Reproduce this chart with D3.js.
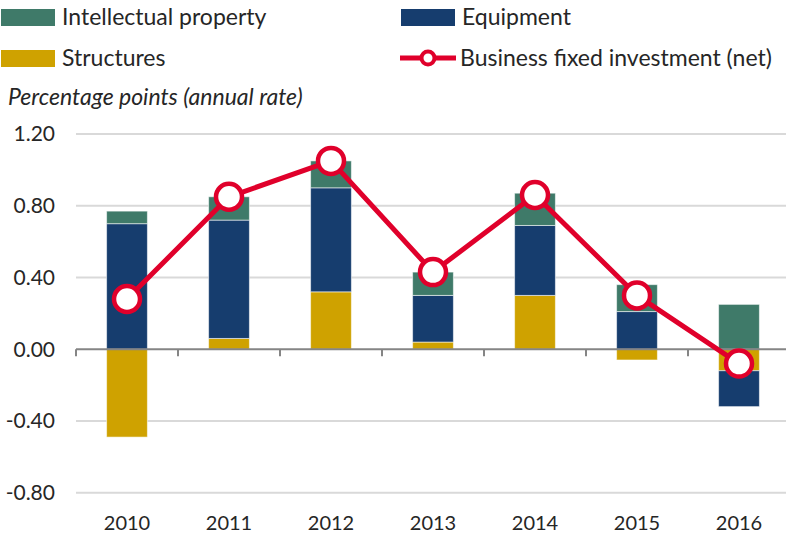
<!DOCTYPE html>
<html><head><meta charset="utf-8">
<script src="https://cdn.jsdelivr.net/npm/d3@7"></script>
<style>
html,body{margin:0;padding:0;background:#fff;}
svg{display:block;font-family:Lato,"Noto Sans",sans-serif;}
</style></head>
<body><svg id="chart" width="786" height="538"></svg>
<script>
const years = ["2010","2011","2012","2013","2014","2015","2016"];
const structures = [-0.49, 0.06, 0.32, 0.04, 0.30, -0.06, -0.12];
const equipment = [0.70, 0.66, 0.58, 0.26, 0.39, 0.21, -0.20];
const intellectual = [0.07, 0.13, 0.15, 0.13, 0.18, 0.15, 0.25];
const netInvestment = [0.28, 0.85, 1.05, 0.43, 0.86, 0.30, -0.08];
const yTicks = [-0.8, -0.4, 0, 0.4, 0.8, 1.2];

const colors = {structures:"#cfa200", equipment:"#163d6e", intellectual:"#3f7a69", line:"#e0002b"};

const svg = d3.select("#chart");
const x = d3.scaleBand().domain(years).range([76, 790]).paddingInner(0.6).paddingOuter(0.3);
const y = d3.scaleLinear().domain([-0.8, 1.2]).range([492.7, 134]);

// gridlines
svg.append("g").selectAll("line").data(yTicks.filter(d => d !== 0)).join("line")
  .attr("x1", 76).attr("x2", 786).attr("y1", d => y(d)).attr("y2", d => y(d))
  .attr("stroke", "#d9d9d9").attr("stroke-width", 2);

// y labels
svg.append("g").selectAll("text").data(yTicks).join("text")
  .attr("x", 55).attr("y", d => y(d)).attr("dy", "0.35em")
  .attr("text-anchor", "end").attr("font-size", 21).attr("fill", "#262626")
  .text(d => d3.format(".2f")(d).replace("\u2212", "-"));

// stacked bars
const table = years.map((yr, i) => ({year: yr, structures: structures[i], equipment: equipment[i], intellectual: intellectual[i]}));
const stack = d3.stack().keys(["structures","equipment","intellectual"]).offset(d3.stackOffsetDiverging);
const series = stack(table);
svg.append("g").selectAll("g").data(series).join("g")
  .attr("fill", d => colors[d.key])
  .selectAll("rect").data(d => d).join("rect")
  .attr("x", d => x(d.data.year)).attr("width", x.bandwidth())
  .attr("y", d => y(Math.max(d[0], d[1])))
  .attr("height", d => Math.abs(y(d[0]) - y(d[1])))
  .attr("stroke", "rgba(255,255,255,0.55)").attr("stroke-width", 1);

// zero axis
svg.append("line").attr("x1", 76).attr("x2", 786).attr("y1", y(0)).attr("y2", y(0))
  .attr("stroke", "#858585").attr("stroke-width", 2);
const tickXs = years.map((d, i) => 76 + i * x.step());
svg.append("g").selectAll("line").data(tickXs).join("line")
  .attr("x1", d => d).attr("x2", d => d).attr("y1", y(0)).attr("y2", y(0) + 7)
  .attr("stroke", "#858585").attr("stroke-width", 2);

// x labels
svg.append("g").selectAll("text").data(years).join("text")
  .attr("x", d => x(d) + x.bandwidth() / 2).attr("y", 530)
  .attr("text-anchor", "middle").attr("font-size", 20).attr("fill", "#262626")
  .text(d => d);

// line
const line = d3.line().x((d, i) => x(years[i]) + x.bandwidth() / 2).y(d => y(d));
svg.append("path").datum(netInvestment).attr("d", line)
  .attr("fill", "none").attr("stroke", colors.line).attr("stroke-width", 5).attr("stroke-linejoin", "round");
svg.append("g").selectAll("circle").data(netInvestment).join("circle")
  .attr("cx", (d, i) => x(years[i]) + x.bandwidth() / 2).attr("cy", d => y(d))
  .attr("r", 13).attr("fill", "#fff").attr("stroke", colors.line).attr("stroke-width", 4.5);

// legend
const leg = svg.append("g").attr("font-size", 23).attr("fill", "#262626");
const items = [
  {label:"Intellectual property", key:"intellectual", x:0, y:17},
  {label:"Equipment", key:"equipment", x:400, y:17},
  {label:"Structures", key:"structures", x:0, y:58}
];
items.forEach(it => {
  leg.append("rect").attr("x", it.x + 1).attr("y", it.y - 8).attr("width", 54).attr("height", 17).attr("fill", colors[it.key]);
  leg.append("text").attr("x", it.x + 62).attr("y", it.y).attr("dy", "0.35em").attr("fill", "#262626").text(it.label);
});
leg.append("line").attr("x1", 400).attr("x2", 456).attr("y1", 58).attr("y2", 58)
  .attr("stroke", colors.line).attr("stroke-width", 5);
leg.append("circle").attr("cx", 428).attr("cy", 58).attr("r", 6.5).attr("fill", "#fff")
  .attr("stroke", colors.line).attr("stroke-width", 4);
leg.append("text").attr("x", 460).attr("y", 58).attr("dy", "0.35em").attr("fill", "#262626").text("Business fixed investment (net)");

svg.append("text").attr("x", 8).attr("y", 97).attr("dy", "0.35em")
  .attr("font-size", 23).attr("font-style", "italic").attr("fill", "#262626")
  .text("Percentage points (annual rate)");
</script></body></html>
